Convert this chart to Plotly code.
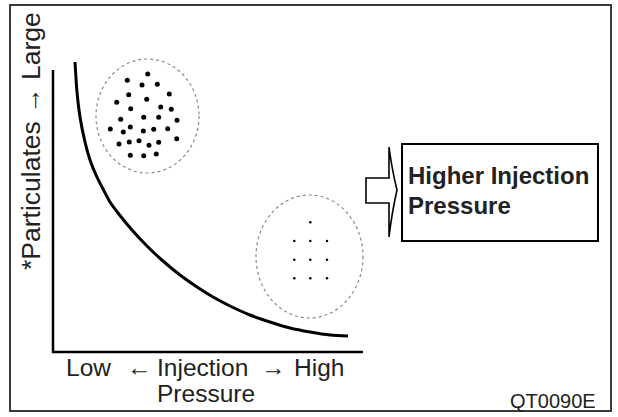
import plotly.graph_objects as go

W, H = 618, 417

# Curve: particulates vs injection pressure (pixel space)
curve_x = [75, 77, 80, 85, 90, 96, 103, 110, 118, 132, 147, 163, 180, 197, 213, 230, 250, 270, 290, 310, 330, 348]
curve_y = [62, 92, 117, 142, 160, 175, 189, 202, 213, 230, 246, 261, 275, 287, 297, 306, 315, 322, 328, 332, 335, 336]

# Large particulates (low pressure)
big_x = [147.7, 127.3, 142, 157.3, 128.7, 169.3, 116.7, 146.7, 130.7, 160.7, 171.3, 120.7, 143.7, 158.7, 177,
         110.3, 123.3, 130.3, 143.3, 153.7, 167.7, 119, 129.3, 139, 149, 158.7, 176.7, 130.3, 143.7, 156.3]
big_y = [74, 80.3, 85, 84.3, 94.7, 94, 102.3, 99.3, 108.7, 107, 109.3, 119.3, 117.3, 117.3, 120.3,
         129, 132, 127, 131, 129.3, 128.7, 144, 142, 140.7, 145.3, 142.3, 138.7, 155.3, 155.7, 154]

# Small particulates (high pressure)
small_x = [310.3, 294.3, 310.3, 327, 294.3, 310.3, 327, 294.3, 310.3, 327]
small_y = [222.3, 241, 241, 241, 259.7, 259.7, 259.7, 278.3, 278.3, 278.3]

# Axis lines
axis_x = [53, 53, 363]
axis_y = [70, 352, 352]

# Text labels
x_label_parts = ["Low", "←", "Injection", "→", "High"]
x_label_pos = [88, 139, 202, 273, 319]
x_label_line2 = "Pressure"
y_label = "*Particulates → Large"
box_lines = ["Higher Injection", "Pressure"]
code_label = "QT0090E"

fig = go.Figure()

fig.add_trace(go.Scatter(x=axis_x, y=axis_y, mode="lines",
                         line=dict(color="black", width=2.5), hoverinfo="skip"))
fig.add_trace(go.Scatter(x=curve_x, y=curve_y, mode="lines",
                         line=dict(color="black", width=3, shape="spline", smoothing=0.8), hoverinfo="skip"))
fig.add_trace(go.Scatter(x=big_x, y=big_y, mode="markers",
                         marker=dict(color="black", size=5), hoverinfo="skip"))
fig.add_trace(go.Scatter(x=small_x, y=small_y, mode="markers",
                         marker=dict(color="black", size=2.5), hoverinfo="skip"))

# Outer frame
fig.add_shape(type="rect", x0=10, y0=5, x1=611, y1=411,
              line=dict(color="#3a3a3a", width=2), fillcolor="rgba(0,0,0,0)")
# Dotted particle clouds
fig.add_shape(type="circle", x0=96, y0=59, x1=199, y1=173,
              line=dict(color="#8a8a8a", width=1.2, dash="dot"))
fig.add_shape(type="circle", x0=256, y0=195, x1=363, y1=318,
              line=dict(color="#8a8a8a", width=1.2, dash="dot"))
# Hollow arrow
fig.add_shape(type="path",
              path="M 366 178 L 389 178 L 389 147 Q 392 170 397 190 Q 392 212 389 237 L 389 203 L 366 203 Z",
              line=dict(color="black", width=1.6), fillcolor="white")
# Text box
fig.add_shape(type="rect", x0=402, y0=144, x1=598, y1=241,
              line=dict(color="black", width=2), fillcolor="white")

font_reg = "Liberation Sans, Arial, sans-serif"

for txt, xp in zip(x_label_parts, x_label_pos):
    fig.add_annotation(x=xp, y=367.5, text=txt, showarrow=False,
                       font=dict(family=font_reg, size=24.5, color="#222"))
fig.add_annotation(x=206, y=393.5, text=x_label_line2, showarrow=False,
                   font=dict(family=font_reg, size=24.5, color="#222"))
fig.add_annotation(x=31, y=141, text=y_label, showarrow=False, textangle=-90,
                   font=dict(family=font_reg, size=26.5, color="#222"))
fig.add_annotation(x=406, y=175, text="<b>%s</b>" % box_lines[0], showarrow=False, xanchor="left",
                   font=dict(family=font_reg, size=24, color="#222"))
fig.add_annotation(x=406, y=205, text="<b>%s</b>" % box_lines[1], showarrow=False, xanchor="left",
                   font=dict(family=font_reg, size=24, color="#222"))
fig.add_annotation(x=598, y=401, text=code_label, showarrow=False, xanchor="right",
                   font=dict(family=font_reg, size=20, color="#222"))

fig.update_layout(width=W, height=H, margin=dict(l=0, r=0, t=0, b=0),
                  paper_bgcolor="white", plot_bgcolor="white", showlegend=False,
                  xaxis=dict(range=[0, W], visible=False, fixedrange=True),
                  yaxis=dict(range=[H, 0], visible=False, fixedrange=True))

fig.write_html("out.html", config={"displayModeBar": False},
               post_script="document.body.style.margin='0';document.body.style.overflow='hidden';")
